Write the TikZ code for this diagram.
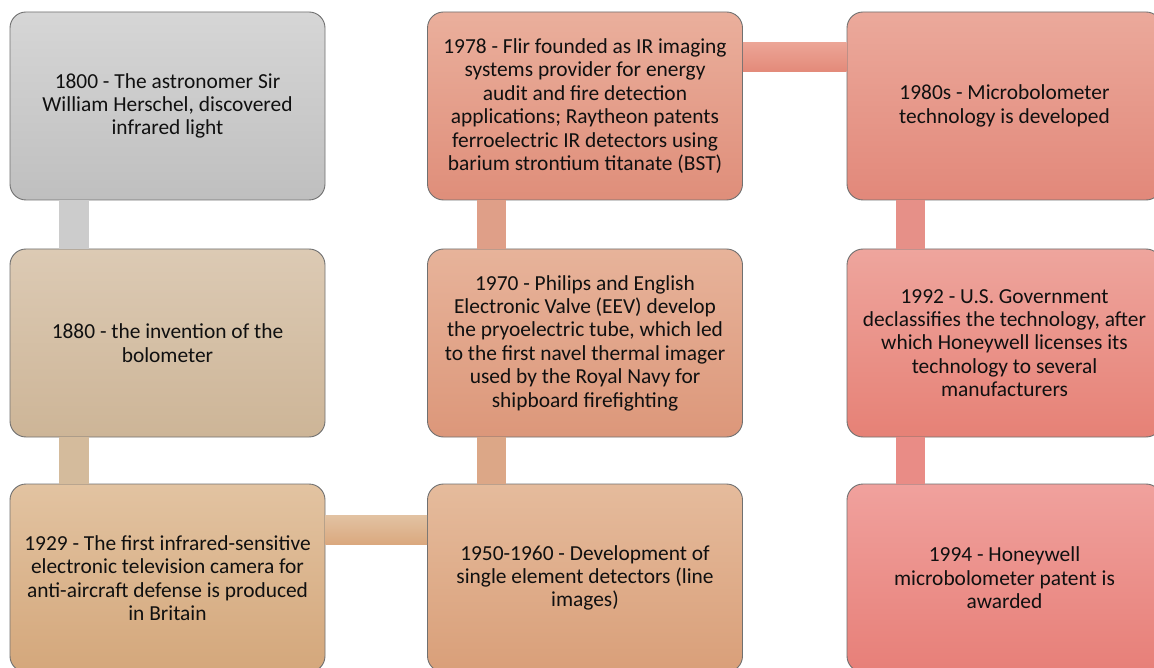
\documentclass[tikz,border=0pt]{standalone}
\usepackage{fontspec}
\setmainfont{Carlito}
\usetikzlibrary{calc}
\definecolor{edge}{HTML}{707070}
\definecolor{ink}{HTML}{101010}
\definecolor{aT}{HTML}{D6D6D6}\definecolor{aB}{HTML}{BFBFBF}
\definecolor{bT}{HTML}{DCCAB4}\definecolor{bB}{HTML}{CDB597}
\definecolor{cT}{HTML}{E2C3A1}\definecolor{cB}{HTML}{D4A77B}
\definecolor{dT}{HTML}{E5BB9C}\definecolor{dB}{HTML}{D99F79}
\definecolor{eT}{HTML}{E7B39A}\definecolor{eB}{HTML}{DC977A}
\definecolor{fT}{HTML}{EAAF9C}\definecolor{fB}{HTML}{DF8E7A}
\definecolor{gT}{HTML}{EBA99B}\definecolor{gB}{HTML}{E2887A}
\definecolor{hT}{HTML}{EEA59D}\definecolor{hB}{HTML}{E68176}
\definecolor{iT}{HTML}{F0A19D}\definecolor{iB}{HTML}{E77F78}
\definecolor{k1}{HTML}{CCCCCC}
\definecolor{k2}{HTML}{D4BB9C}
\definecolor{k3T}{HTML}{E2C2A2}\definecolor{k3B}{HTML}{DAA87E}
\definecolor{k4}{HTML}{DCA787}
\definecolor{k5}{HTML}{DF9F88}
\definecolor{k6T}{HTML}{ECA596}\definecolor{k6B}{HTML}{E38A7A}
\definecolor{k7}{HTML}{E69088}
\definecolor{k8}{HTML}{E98C86}
\tikzset{
  event/.style={draw=edge, line width=0.9pt, rounded corners=16pt,
    minimum width=315pt, minimum height=188pt, inner sep=0pt,
    align=center, text=ink,
    font=\fontsize{21.4pt}{23.4pt}\selectfont}
}
\begin{document}
\begin{tikzpicture}[x=1pt,y=-1pt]
\useasboundingbox (0,0) rectangle (1154,668);
\clip (0,0) rectangle (1154,668);
\fill[white] (0,0) rectangle (1154,668);
\path
 (167.5,106) coordinate (p1)
 (167.5,343) coordinate (p2)
 (167.5,578) coordinate (p3)
 (585,578) coordinate (p4)
 (585,343) coordinate (p5)
 (585,106) coordinate (p6)
 (1004.5,106) coordinate (p7)
 (1004.5,343) coordinate (p8)
 (1004.5,578) coordinate (p9);
\node[event, top color=aT, bottom color=aB] (n1) at (p1)
 {1800 - The astronomer Sir\\William Herschel, discovered\\infrared light};
\node[event, top color=bT, bottom color=bB] (n2) at (p2)
 {1880 - the invention of the\\bolometer};
\node[event, top color=cT, bottom color=cB] (n3) at (p3)
 {1929 - The first infrared-sensitive\\electronic television camera for\\anti-aircraft defense is produced\\in Britain};
\node[event, top color=dT, bottom color=dB] (n4) at (p4)
 {1950-1960 - Development of\\single element detectors (line\\images)};
\node[event, top color=eT, bottom color=eB] (n5) at (p5)
 {1970 - Philips and English\\Electronic Valve (EEV) develop\\the pryoelectric tube, which led\\to the first navel thermal imager\\used by the Royal Navy for\\shipboard firefighting};
\node[event, top color=fT, bottom color=fB] (n6) at (p6)
 {1978 - Flir founded as IR imaging\\systems provider for energy\\audit and fire detection\\applications; Raytheon patents\\ferroelectric IR detectors using\\barium strontium titanate (BST)};
\node[event, top color=gT, bottom color=gB] (n7) at (p7)
 {1980s - Microbolometer\\technology is developed};
\node[event, top color=hT, bottom color=hB] (n8) at (p8)
 {1992 - U.S. Government\\declassifies the technology, after\\which Honeywell licenses its\\technology to several\\manufacturers};
\node[event, top color=iT, bottom color=iB] (n9) at (p9)
 {1994 - Honeywell\\microbolometer patent is\\awarded};
% connectors
\fill[k1] ($(n1.south west)+(49,0)$) rectangle ($(n2.north west)+(79,0)$);
\fill[k2] ($(n2.south west)+(49,0)$) rectangle ($(n3.north west)+(79,0)$);
\shade[top color=k3T, bottom color=k3B] ($(n3.north east)+(0,32)$) rectangle ($(n4.north west)+(0,61)$);
\fill[k4] ($(n4.north west)+(50,0)$) rectangle ($(n5.south west)+(79,0)$);
\fill[k5] ($(n5.north west)+(50,0)$) rectangle ($(n6.south west)+(79,0)$);
\shade[top color=k6T, bottom color=k6B] ($(n6.north east)+(0,31)$) rectangle ($(n7.north west)+(0,60)$);
\fill[k7] ($(n7.south west)+(49,0)$) rectangle ($(n8.north west)+(78,0)$);
\fill[k8] ($(n8.south west)+(49,0)$) rectangle ($(n9.north west)+(78,0)$);
\end{tikzpicture}
\end{document}
